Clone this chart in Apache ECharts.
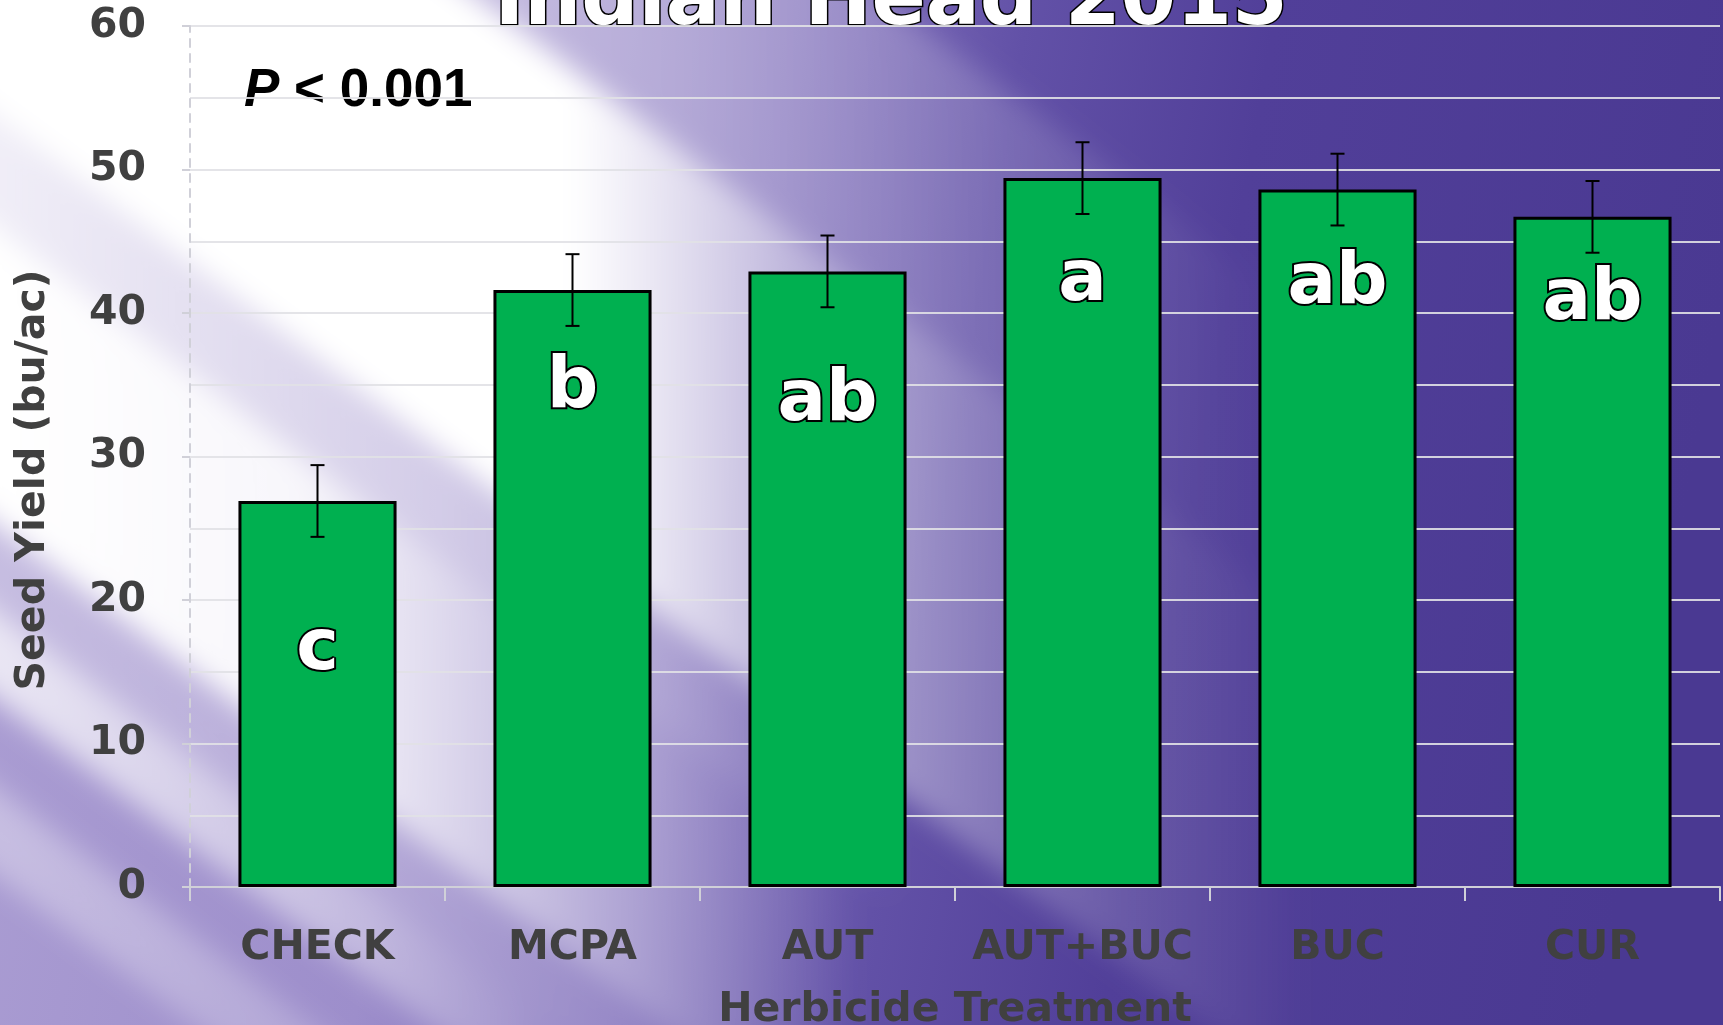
<!DOCTYPE html>
<html>
<head>
<meta charset="utf-8">
<script src="https://cdn.jsdelivr.net/npm/echarts@6/dist/echarts.min.js"></script>
<style>
    html, body { margin: 0; padding: 0; }
    #wrap { position: relative; width: 1723px; height: 1025px; overflow: hidden; }
    #bg { position: absolute; left: 0; top: 0; }
    #main { position: absolute; left: 0; top: 0; width: 1723px; height: 1025px; }
</style>
</head>
<body>
<div id="wrap">
<svg id="bg" width="1723" height="1025" viewBox="0 0 1723 1025">
    <defs>
        <linearGradient id="base" x1="0" y1="0" x2="1723" y2="300" gradientUnits="userSpaceOnUse">
            <stop offset="0" stop-color="#ada0d4"/>
            <stop offset="0.3" stop-color="#9d8ecb"/>
            <stop offset="0.45" stop-color="#8170bb"/>
            <stop offset="0.58" stop-color="#6251a7"/>
            <stop offset="0.72" stop-color="#513f99"/>
            <stop offset="1" stop-color="#4a3992"/>
        </linearGradient>
        <linearGradient id="f0" x1="0" y1="0" x2="1500" y2="0" gradientUnits="userSpaceOnUse">
            <stop offset="0" stop-color="#fff" stop-opacity="0.45"/>
            <stop offset="0.45" stop-color="#fff" stop-opacity="0.35"/>
            <stop offset="0.85" stop-color="#fff" stop-opacity="0"/>
        </linearGradient>
        <linearGradient id="f1" x1="0" y1="0" x2="1500" y2="0" gradientUnits="userSpaceOnUse">
            <stop offset="0" stop-color="#fff" stop-opacity="1"/>
            <stop offset="0.38" stop-color="#fff" stop-opacity="1"/>
            <stop offset="0.53" stop-color="#fff" stop-opacity="0.5"/>
            <stop offset="0.7" stop-color="#fff" stop-opacity="0.2"/>
            <stop offset="0.87" stop-color="#fff" stop-opacity="0"/>
        </linearGradient>
        <linearGradient id="fg" x1="0" y1="0" x2="1500" y2="0" gradientUnits="userSpaceOnUse">
            <stop offset="0" stop-color="#fff" stop-opacity="0.82"/>
            <stop offset="0.4" stop-color="#fff" stop-opacity="0.45"/>
            <stop offset="0.6" stop-color="#fff" stop-opacity="0"/>
        </linearGradient>
        <linearGradient id="f2" x1="0" y1="0" x2="1500" y2="0" gradientUnits="userSpaceOnUse">
            <stop offset="0" stop-color="#fff" stop-opacity="1"/>
            <stop offset="0.2" stop-color="#fff" stop-opacity="0.92"/>
            <stop offset="0.4" stop-color="#fff" stop-opacity="0.4"/>
            <stop offset="0.57" stop-color="#fff" stop-opacity="0"/>
        </linearGradient>
        <linearGradient id="f3" x1="0" y1="0" x2="1500" y2="0" gradientUnits="userSpaceOnUse">
            <stop offset="0" stop-color="#fff" stop-opacity="1"/>
            <stop offset="0.2" stop-color="#fff" stop-opacity="0.6"/>
            <stop offset="0.47" stop-color="#fff" stop-opacity="0"/>
        </linearGradient>
        <filter id="soft" x="-20%" y="-20%" width="140%" height="140%"><feGaussianBlur stdDeviation="14"/></filter>
    </defs>
    <rect x="0" y="0" width="1723" height="1025" fill="url(#base)"/>
    <g filter="url(#soft)">
        <polygon points="-100,-739 1500,461 1500,765 -100,-435" fill="url(#f0)"/>
        <polygon points="-100,-435 1500,765 1500,1245 -100,45" fill="url(#f1)"/>
        <polygon points="-100,45 1500,1245 1500,1355 -100,155" fill="url(#fg)"/>
        <polygon points="-100,155 1500,1355 1500,1652 -100,452" fill="url(#f2)"/>
        <polygon points="-100,452 1500,1652 1500,1740 -100,540" fill="url(#fg)" opacity="0.4"/>
        <polygon points="-100,540 1500,1740 1500,1828 -100,628" fill="url(#f3)" opacity="0.75"/>
        <polygon points="-100,716 1500,1916 1500,2004 -100,804" fill="url(#f3)" opacity="0.35"/>
    </g>
</svg>
<div id="main"></div>
</div>
<script>
var categories = ['CHECK', 'MCPA', 'AUT', 'AUT+BUC', 'BUC', 'CUR'];
var yieldMeans = [26.9, 41.6, 42.9, 49.4, 48.6, 46.7];
var yieldErrors = [2.5, 2.5, 2.5, 2.5, 2.5, 2.5];
var letters = ['c', 'b', 'ab', 'a', 'ab', 'ab'];

// how far (px) each letter sits below its bar top
var letterDrop = [108, 57, 89, 62, 54, 42];

var labelFont = 'DejaVu Sans';
var grey = '#404040';

var barData = yieldMeans.map(function (v, i) {
    return {
        value: v,
        label: {
            formatter: letters[i],
            offset: [0, letterDrop[i]]
        }
    };
});

var errData = yieldMeans.map(function (v, i) {
    return [i, v - yieldErrors[i], v + yieldErrors[i]];
});

var option = {
    animation: false,
    backgroundColor: 'transparent',
    grid: { left: 190, right: 3, top: 26, bottom: 138, outerBoundsMode: 'none' },
    graphic: [{
        type: 'text',
        x: 891, y: 3,
        style: {
            text: 'Indian Head 2015',
            font: 'bold 80px "DejaVu Sans"',
            fill: '#ffffff',
            stroke: '#000000',
            lineWidth: 3,
            align: 'center',
            verticalAlign: 'middle'
        }
    }, {
        type: 'text',
        x: 244, y: 91,
        style: {
            text: '{p|P} < 0.001',
            font: 'bold 53px "Liberation Sans"',
            fill: '#000000',
            align: 'left',
            verticalAlign: 'middle',
            rich: {
                p: { fontStyle: 'italic', fontWeight: 'bold', fontSize: 53, fontFamily: 'Liberation Sans', fill: '#000000' }
            }
        }
    }, {
        type: 'text',
        x: 33, y: 480,
        rotation: Math.PI / 2,
        style: {
            text: 'Seed Yield (bu/ac)',
            font: 'bold 41px "DejaVu Sans"',
            fill: grey,
            align: 'center',
            verticalAlign: 'middle'
        }
    }],
    xAxis: {
        type: 'category',
        data: categories,
        name: 'Herbicide Treatment',
        nameLocation: 'middle',
        nameGap: 103,
        nameTextStyle: { color: grey, fontFamily: labelFont, fontWeight: 'bold', fontSize: 41 },
        axisLine: { lineStyle: { color: '#d0d0d8', width: 2 } },
        axisTick: { show: true, length: 14, lineStyle: { color: '#d0d0d8', width: 2 } },
        axisLabel: { interval: 0, color: grey, fontFamily: labelFont, fontWeight: 'bold', fontSize: 41, margin: 41 }
    },
    yAxis: {
        type: 'value',
        min: 0, max: 60, interval: 10,
        axisLine: { show: true, lineStyle: { color: '#d0d0d8', width: 2, type: [8, 7] } },
        axisTick: { show: true, length: 14, lineStyle: { color: '#d0d0d8', width: 2, type: [8, 7] } },
        axisLabel: { color: grey, fontFamily: labelFont, fontWeight: 'bold', fontSize: 41, margin: 44 },
        splitLine: { show: true, lineStyle: { color: 'rgba(225,225,230,0.9)', width: 2 } },
        minorTick: { show: false, splitNumber: 2 },
        minorSplitLine: { show: true, lineStyle: { color: 'rgba(225,225,230,0.9)', width: 2 } }
    },
    series: [{
        type: 'bar',
        data: barData,
        barWidth: '62%',
        itemStyle: { color: '#00b050', borderColor: '#000000', borderWidth: 3 },
        label: {
            show: true,
            position: 'insideTop',
            fontFamily: labelFont,
            fontWeight: 'bold',
            fontSize: 72,
            color: '#ffffff',
            textBorderColor: '#000000',
            textBorderWidth: 4
        },
        z: 2
    }, {
        type: 'custom',
        data: errData,
        z: 5,
        renderItem: function (params, api) {
            var x = api.value(0);
            var lo = api.coord([x, api.value(1)]);
            var hi = api.coord([x, api.value(2)]);
            var cap = 7;
            var st = { stroke: '#000000', lineWidth: 2 };
            return {
                type: 'group',
                children: [
                    { type: 'line', shape: { x1: lo[0], y1: lo[1], x2: hi[0], y2: hi[1] }, style: st },
                    { type: 'line', shape: { x1: lo[0] - cap, y1: lo[1], x2: lo[0] + cap, y2: lo[1] }, style: st },
                    { type: 'line', shape: { x1: hi[0] - cap, y1: hi[1], x2: hi[0] + cap, y2: hi[1] }, style: st }
                ]
            };
        }
    }]
};

var myChart = echarts.init(document.getElementById('main'));
myChart.setOption(option);
</script>
</body>
</html>
